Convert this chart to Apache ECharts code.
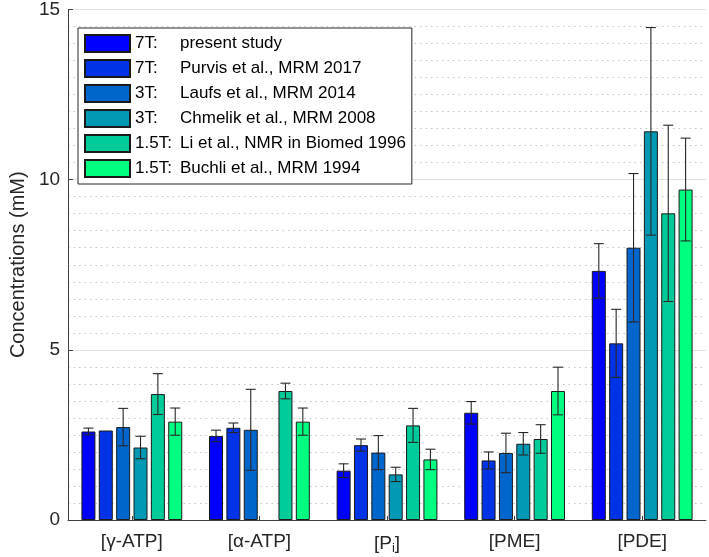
<!DOCTYPE html>
<html>
<head>
<meta charset="utf-8">
<script src="https://cdn.jsdelivr.net/npm/echarts@6/dist/echarts.min.js"></script>
<style>html,body{margin:0;padding:0;background:#fff}#c{width:709px;height:557px}</style>
</head>
<body>
<div id="c"></div>
<script>
const categories = ['[γ-ATP]', '[α-ATP]', '[Pi]', '[PME]', '[PDE]'];
const seriesNames = [
  '7T: present study',
  '7T: Purvis et al., MRM 2017',
  '3T: Laufs et al., MRM 2014',
  '3T: Chmelik et al., MRM 2008',
  '1.5T: Li et al., NMR in Biomed 1996',
  '1.5T: Buchli et al., MRM 1994'
];
const values1 = [2.60, 2.47, 1.45, 3.15, 7.32];
const values2 = [2.63, 2.71, 2.20, 1.75, 5.19];
const values3 = [2.73, 2.65, 1.98, 1.97, 8.00];
const values4 = [2.13, null, 1.34, 2.24, 11.42];
const values5 = [3.70, 3.79, 2.78, 2.38, 9.01];
const values6 = [2.89, 2.89, 1.78, 3.79, 9.71];
const errors1 = [0.10, 0.17, 0.20, 0.33, 0.80];
const errors2 = [null, 0.14, 0.18, 0.25, 1.00];
const errors3 = [0.55, 1.19, 0.50, 0.58, 2.18];
const errors4 = [0.33, null, 0.21, 0.33, 3.05];
const errors5 = [0.60, 0.23, 0.50, 0.42, 2.59];
const errors6 = [0.40, 0.40, 0.30, 0.70, 1.51];
const yTicks = [0, 5, 10, 15];

const allValues = [values1, values2, values3, values4, values5, values6];
const allErrors = [errors1, errors2, errors3, errors4, errors5, errors6];
const colors = ['#0000FF', '#0033E6', '#0066CC', '#0099B3', '#00CC99', '#00FF80'];

const BAR_W = 14;
const GAP_RATIO = 0.24;
const STEP = BAR_W * (1 + GAP_RATIO);
const N = seriesNames.length;

const errData = [];
allValues.forEach((vals, k) => {
  vals.forEach((v, i) => {
    const e = allErrors[k][i];
    if (v != null && e != null) errData.push([i, v - e, v + e, k]);
  });
});

const chart = echarts.init(document.getElementById('c'), null, {renderer: 'canvas'});
const font = 'Liberation Sans, Arial, Helvetica, sans-serif';

const series = allValues.map((vals, k) => ({
  name: seriesNames[k],
  type: 'bar',
  data: vals,
  barWidth: BAR_W,
  barGap: (GAP_RATIO * 100) + '%',
  itemStyle: {color: colors[k], borderColor: '#1a1a1a', borderWidth: 1},
  emphasis: {disabled: true},
  animation: false
}));

series.push({
  type: 'custom',
  name: 'err',
  data: errData,
  z: 10,
  animation: false,
  encode: {x: 0, y: [1, 2]},
  renderItem: function (params, api) {
    const c = api.value(0);
    const k = api.value(3);
    const off = (k - (N - 1) / 2) * STEP;
    const lo = api.coord([c, api.value(1)]);
    const hi = api.coord([c, api.value(2)]);
    const x = lo[0] + off;
    const cw = 5;
    const st = {stroke: '#262626', lineWidth: 1.1};
    return {
      type: 'group',
      children: [
        {type: 'line', shape: {x1: x, y1: lo[1], x2: x, y2: hi[1]}, style: st},
        {type: 'line', shape: {x1: x - cw, y1: lo[1], x2: x + cw, y2: lo[1]}, style: st},
        {type: 'line', shape: {x1: x - cw, y1: hi[1], x2: x + cw, y2: hi[1]}, style: st}
      ]
    };
  }
});

chart.setOption({
  backgroundColor: '#fff',
  animation: false,
  textStyle: {fontFamily: font},
  grid: {left: 58, right: 3, top: 9, bottom: 37, containLabel: false},
  legend: {
    data: seriesNames,
    orient: 'vertical',
    left: 78,
    top: 28,
    itemWidth: 45,
    itemHeight: 17,
    itemGap: 6,
    padding: [6, 6, 6, 6],
    borderColor: '#262626',
    borderWidth: 1,
    backgroundColor: '#fff',
    selectedMode: false,
    icon: 'rect',
    formatter: function (name) {
      const idx = name.indexOf(':');
      return '{a|' + name.slice(0, idx + 1) + '}{b|' + name.slice(idx + 2) + '}';
    },
    textStyle: {
      fontFamily: font,
      fontSize: 17,
      color: '#000',
      rich: {
        a: {width: 45, fontSize: 17, fontFamily: font, color: '#000'},
        b: {fontSize: 17, fontFamily: font, color: '#000'}
      }
    }
  },
  xAxis: {
    type: 'category',
    data: categories,
    axisLine: {show: true, lineStyle: {color: '#404040', width: 1}},
    axisTick: {show: true, inside: true, length: 4, alignWithLabel: true, lineStyle: {color: '#404040'}},
    axisLabel: {
      interval: 0,
      margin: 12,
      fontSize: 19,
      color: '#262626',
      fontFamily: font,
      formatter: function (v) {
        if (v === '[Pi]') return '{n|[P}{s|i}{n|]}';
        return '{n|' + v + '}';
      },
      rich: {
        n: {fontSize: 19, fontFamily: font, color: '#262626'},
        s: {fontSize: 13, fontFamily: font, color: '#262626', padding: [10, 0, 0, 0]}
      }
    },
    splitLine: {show: false}
  },
  yAxis: {
    type: 'value',
    min: yTicks[0],
    max: yTicks[yTicks.length - 1],
    interval: 5,
    name: 'Concentrations (mM)',
    nameLocation: 'middle',
    nameGap: 32,
    nameTextStyle: {fontSize: 20, color: '#262626', fontFamily: font},
    axisLine: {show: true, lineStyle: {color: '#404040', width: 1}},
    axisTick: {show: true, inside: true, length: 5, lineStyle: {color: '#404040'}},
    axisLabel: {fontSize: 19, color: '#262626', margin: 8, fontFamily: font},
    splitLine: {show: true, lineStyle: {color: '#e0e0e0', width: 1}},
    minorTick: {show: false, splitNumber: 10},
    minorSplitLine: {show: true, lineStyle: {color: '#c4c4c4', width: 1, type: [1.5, 4]}}
  },
  series: series
});
</script>
</body>
</html>
